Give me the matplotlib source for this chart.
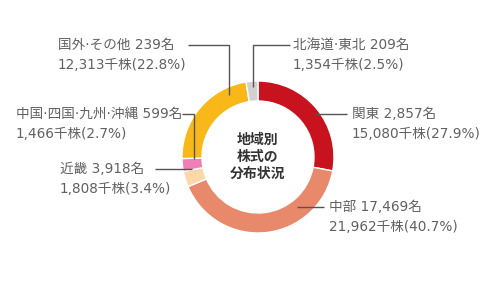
import matplotlib
matplotlib.use("Agg")
import matplotlib.pyplot as plt

# ---- data ----
regions = ["関東", "中部", "近畿", "中国·四国·九州·沖縄", "国外·その他", "北海道·東北"]
holders = ["2,857", "17,469", "3,918", "599", "239", "209"]
shares = [15080, 21962, 1808, 1466, 12313, 1354]          # 千株
share_labels = ["15,080", "21,962", "1,808", "1,466", "12,313", "1,354"]
percents = ["27.9", "40.7", "3.4", "2.7", "22.8", "2.5"]
center_title = "地域別\n株式の\n分布状況"

# ---- styling / layout (pixel coords, y measured from top) ----
colors = ["#c8131f", "#e8896c", "#fcd8a8", "#ef7fb6", "#f8b81a", "#d1d1d1"]
W, H = 499, 283
cx, cy, R, ring = 258, 157, 76, 20
text_pos = [(352, 114), (329, 207), (60, 169), (16, 114), (58, 45), (293, 45)]
leaders = [
    [(315, 114), (347, 114)],
    [(297, 207), (324, 207)],
    [(155, 169), (192, 169)],
    [(182, 114), (194, 114), (194, 159)],
    [(188, 45), (229, 45), (229, 95)],
    [(253, 87), (253, 45), (290, 45)],
]

plt.rcParams['font.family'] = ['DejaVu Sans', 'Noto Sans CJK JP']
fig = plt.figure(figsize=(W / 100, H / 100), dpi=100)
ax = fig.add_axes([0, 0, 1, 1])

ax.pie(shares, colors=colors, startangle=90, counterclock=False,
       center=(cx, H - cy), radius=R, frame=True,
       wedgeprops=dict(width=ring, edgecolor='white', linewidth=1.0))
ax.set_xlim(0, W)
ax.set_ylim(0, H)
ax.set_aspect('equal')
ax.axis('off')

ax.text(cx, H - cy, center_title, ha='center', va='center', fontsize=10,
        fontweight='bold', color='#333333', linespacing=1.25,
        family=['Noto Sans CJK JP', 'DejaVu Sans'])

tc = '#616161'
fs = 9.8
for i in range(len(regions)):
    x, y = text_pos[i]
    ax.text(x, H - y, f"{regions[i]} {holders[i]}名", ha='left', va='center',
            fontsize=fs, color=tc)
    ax.text(x, H - (y + 20), f"{share_labels[i]}千株({percents[i]}%)", ha='left',
            va='center', fontsize=fs, color=tc)
    xs = [p[0] for p in leaders[i]]
    ys = [H - p[1] for p in leaders[i]]
    ax.plot(xs, ys, color='#555555', lw=1.0, solid_capstyle='butt')

fig.savefig("out.png", dpi=100)
